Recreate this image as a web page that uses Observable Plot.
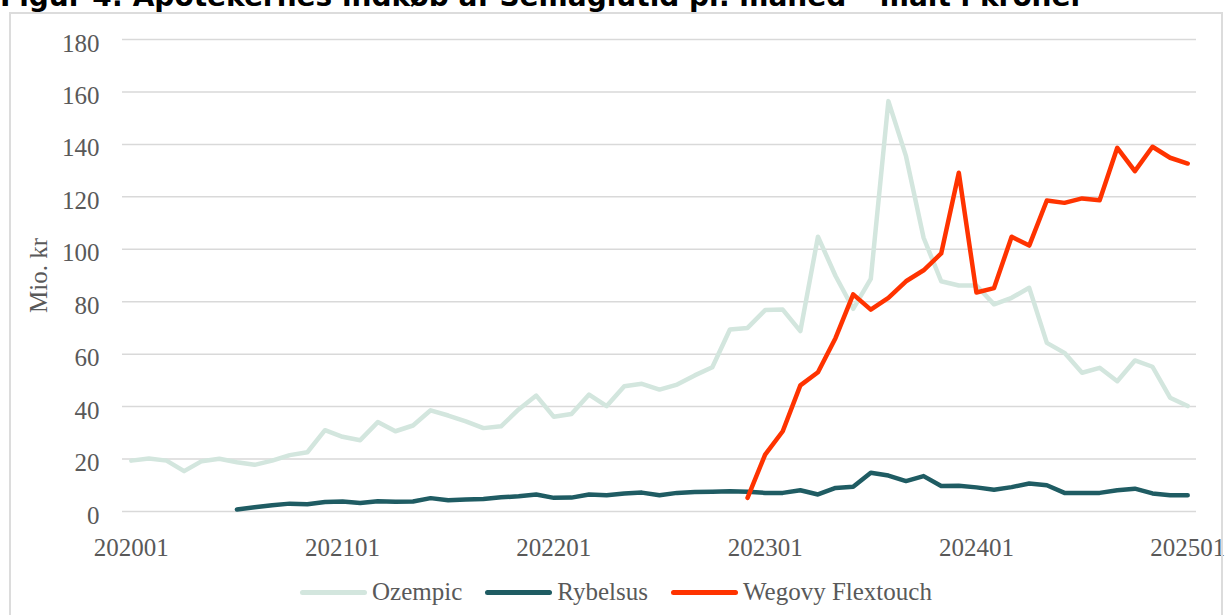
<!DOCTYPE html>
<html><head><meta charset="utf-8">
<script src="https://cdn.jsdelivr.net/npm/d3@7"></script>
<script src="https://cdn.jsdelivr.net/npm/@observablehq/plot@0.6"></script>
<style>
html,body{margin:0;padding:0;background:#fff;width:1227px;height:615px;overflow:hidden;}
#title{position:absolute;left:0;top:-17px;font:bold 28px "DejaVu Sans";line-height:1;white-space:nowrap;color:#000;}
#frame{position:absolute;left:9px;top:12px;width:1214px;height:640px;border:2px solid #dcdcdc;box-sizing:border-box;}
#chart{position:absolute;left:0;top:0;}
#legend{position:absolute;left:9px;width:1214px;top:592px;transform:translateY(-50%);display:flex;justify-content:center;align-items:center;font:25px "Liberation Serif";color:#595959;}
.item{display:flex;align-items:center;margin:0 11.5px;}
.sw{width:67px;height:5px;border-radius:3px;margin-right:5px;}
</style></head><body>
<div id="title">Figur 4: Apotekernes indkøb af Semaglutid pr. måned – målt i kroner</div>
<div id="chart"></div>
<div id="frame"></div>
<div id="legend"></div>
<script>
// Months 202001 .. 202501
const months = [];
for (let y = 2020; y <= 2025; y++) for (let m = 1; m <= 12; m++) { if (y === 2025 && m > 1) break; months.push(`${y}${String(m).padStart(2, "0")}`); }

const xTickLabels = ["202001", "202101", "202201", "202301", "202401", "202501"];
const yTicks = [0, 20, 40, 60, 80, 100, 120, 140, 160, 180];

const seriesNames = ["Ozempic", "Rybelsus", "Wegovy Flextouch"];
const seriesColors = ["#d3e6de", "#1f5c63", "#ff3300"];

const ozempic = [
  19.4, 20.2, 19.4, 15.4, 19.2, 20.1, 18.8, 17.8, 19.4, 21.5, 22.6, 31.0,
  28.5, 27.2, 34.1, 30.6, 32.8, 38.6, 36.6, 34.4, 31.8, 32.5, 38.9, 44.2,
  36.1, 37.2, 44.6, 40.2, 47.8, 48.7, 46.5, 48.4, 51.9, 55.0, 69.4, 70.0,
  76.8, 77.0, 68.8, 104.8, 89.8, 77.3, 88.7, 156.5, 135.5, 104.4, 87.8, 86.2,
  86.2, 79.0, 81.5, 85.3, 64.3, 60.5, 52.9, 54.8, 49.7, 57.6, 55.2, 43.4,
  40.2
];
const rybelsus = [
  null, null, null, null, null, null, 0.8, 1.6, 2.4, 3.0, 2.8, 3.6,
  3.8, 3.2, 3.9, 3.7, 3.8, 5.1, 4.3, 4.6, 4.8, 5.4, 5.8, 6.5,
  5.2, 5.3, 6.5, 6.2, 6.9, 7.2, 6.2, 7.1, 7.4, 7.5, 7.7, 7.5,
  7.1, 7.1, 8.1, 6.5, 9.0, 9.4, 14.8, 13.7, 11.6, 13.5, 9.7, 9.8,
  9.2, 8.3, 9.3, 10.7, 10.0, 7.1, 7.1, 7.1, 8.1, 8.7, 6.9, 6.2,
  6.2
];
const wegovy = [
  null, null, null, null, null, null, null, null, null, null, null, null,
  null, null, null, null, null, null, null, null, null, null, null, null,
  null, null, null, null, null, null, null, null, null, null, null, 5.2,
  21.7, 30.6, 48.1, 53.1, 66.2, 82.8, 77.0, 81.5, 87.8, 92.0, 98.4, 129.2,
  83.5, 85.2, 104.8, 101.4, 118.6, 117.7, 119.4, 118.7, 138.7, 129.8, 139.1, 134.9,
  132.7
];
const seriesValues = [ozempic, rybelsus, wegovy];

const rows = [];
seriesValues.forEach((vals, s) => vals.forEach((v, i) => { if (v != null) rows.push({i, month: months[i], series: seriesNames[s], value: v}); }));

const tickIdx = xTickLabels.map(l => months.indexOf(l));

const chart = Plot.plot({
  width: 1227,
  height: 565,
  marginLeft: 122,
  marginRight: 31,
  marginTop: 39,
  marginBottom: 54,
  style: {fontFamily: "Liberation Serif", fontSize: "25px", color: "#595959", background: "none", overflow: "visible"},
  x: {domain: [-0.5, months.length - 0.5]},
  y: {domain: [0, 180]},
  marks: [
    Plot.gridY(yTicks, {stroke: "#d9d9d9", strokeOpacity: 1, strokeWidth: 1.5}),
    Plot.axisY({ticks: yTicks, tickSize: 0, tickPadding: 23, dy: 4, label: "Mio. kr", labelArrow: "none", labelAnchor: "center", labelOffset: 93}),
    Plot.axisX({ticks: tickIdx, tickFormat: i => months[i], tickSize: 0, tickPadding: 27, label: null}),
    ...seriesNames.map((name, s) => Plot.line(rows.filter(r => r.series === name), {
      x: "i", y: "value", stroke: seriesColors[s], strokeWidth: 4.5,
      strokeLinecap: "round", strokeLinejoin: "round"
    }))
  ]
});
document.getElementById("chart").appendChild(chart);

const legend = document.getElementById("legend");
seriesNames.forEach((name, s) => {
  const item = document.createElement("div");
  item.className = "item";
  const sw = document.createElement("div");
  sw.className = "sw";
  sw.style.background = seriesColors[s];
  const t = document.createElement("span");
  t.textContent = name;
  item.appendChild(sw); item.appendChild(t);
  legend.appendChild(item);
});
</script></body></html>
